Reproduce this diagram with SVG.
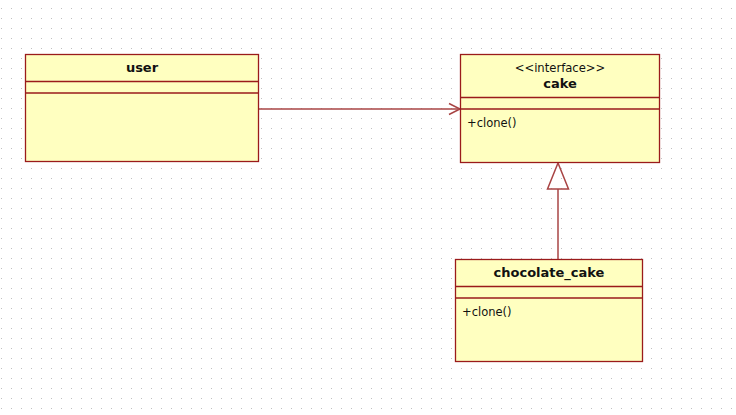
<svg xmlns="http://www.w3.org/2000/svg" width="736" height="415" viewBox="0 0 736 415">
<defs>
<pattern id="grid" width="10" height="10" patternUnits="userSpaceOnUse">
<rect x="1" y="8" width="1" height="1" fill="#c0c0c0"/>
</pattern>
<style>
.box{fill:#ffffc0;stroke:#9a1b1b;stroke-width:1.3}
.div{stroke:#9a1b1b;stroke-width:1.3}
.conn{stroke:#a84444;stroke-width:1.5;fill:none}
.title{font-family:"DejaVu Sans",sans-serif;font-size:13px;font-weight:bold;fill:#111;text-anchor:middle}
.stereo{font-family:"DejaVu Sans",sans-serif;font-size:11.6px;fill:#111;text-anchor:middle}
.op{font-family:"DejaVu Sans",sans-serif;font-size:11.5px;fill:#111}
</style>
</defs>
<rect width="736" height="415" fill="#ffffff"/>
<rect width="736" height="415" fill="url(#grid)"/>
<g id="connectors">
<line class="conn" x1="258" y1="109" x2="460" y2="109"/>
<polyline class="conn" points="449,103.5 460,109 449,114.5"/>
<line class="conn" x1="558" y1="189" x2="558" y2="259"/>
<polygon class="conn" points="558,163 547.5,189 568.5,189" fill="#ffffff"/>
</g>
<g id="user">
<rect class="box" x="25.5" y="54.5" width="233" height="107"/>
<line class="div" x1="25.5" y1="81.5" x2="258.5" y2="81.5"/>
<line class="div" x1="25.5" y1="93" x2="258.5" y2="93"/>
<text class="title" x="142" y="72">user</text>
</g>
<g id="cake">
<rect class="box" x="460.5" y="54.5" width="199" height="108"/>
<line class="div" x1="460.5" y1="97.5" x2="659.5" y2="97.5"/>
<line class="div" x1="460.5" y1="109" x2="659.5" y2="109"/>
<text class="stereo" x="560" y="72">&lt;&lt;interface&gt;&gt;</text>
<text class="title" x="560" y="88">cake</text>
<text class="op" x="467" y="127">+clone()</text>
</g>
<g id="chocolate_cake">
<rect class="box" x="455.5" y="259.5" width="187" height="102"/>
<line class="div" x1="455.5" y1="286.5" x2="642.5" y2="286.5"/>
<line class="div" x1="455.5" y1="298" x2="642.5" y2="298"/>
<text class="title" x="549" y="277">chocolate_cake</text>
<text class="op" x="462" y="316">+clone()</text>
</g>
</svg>
